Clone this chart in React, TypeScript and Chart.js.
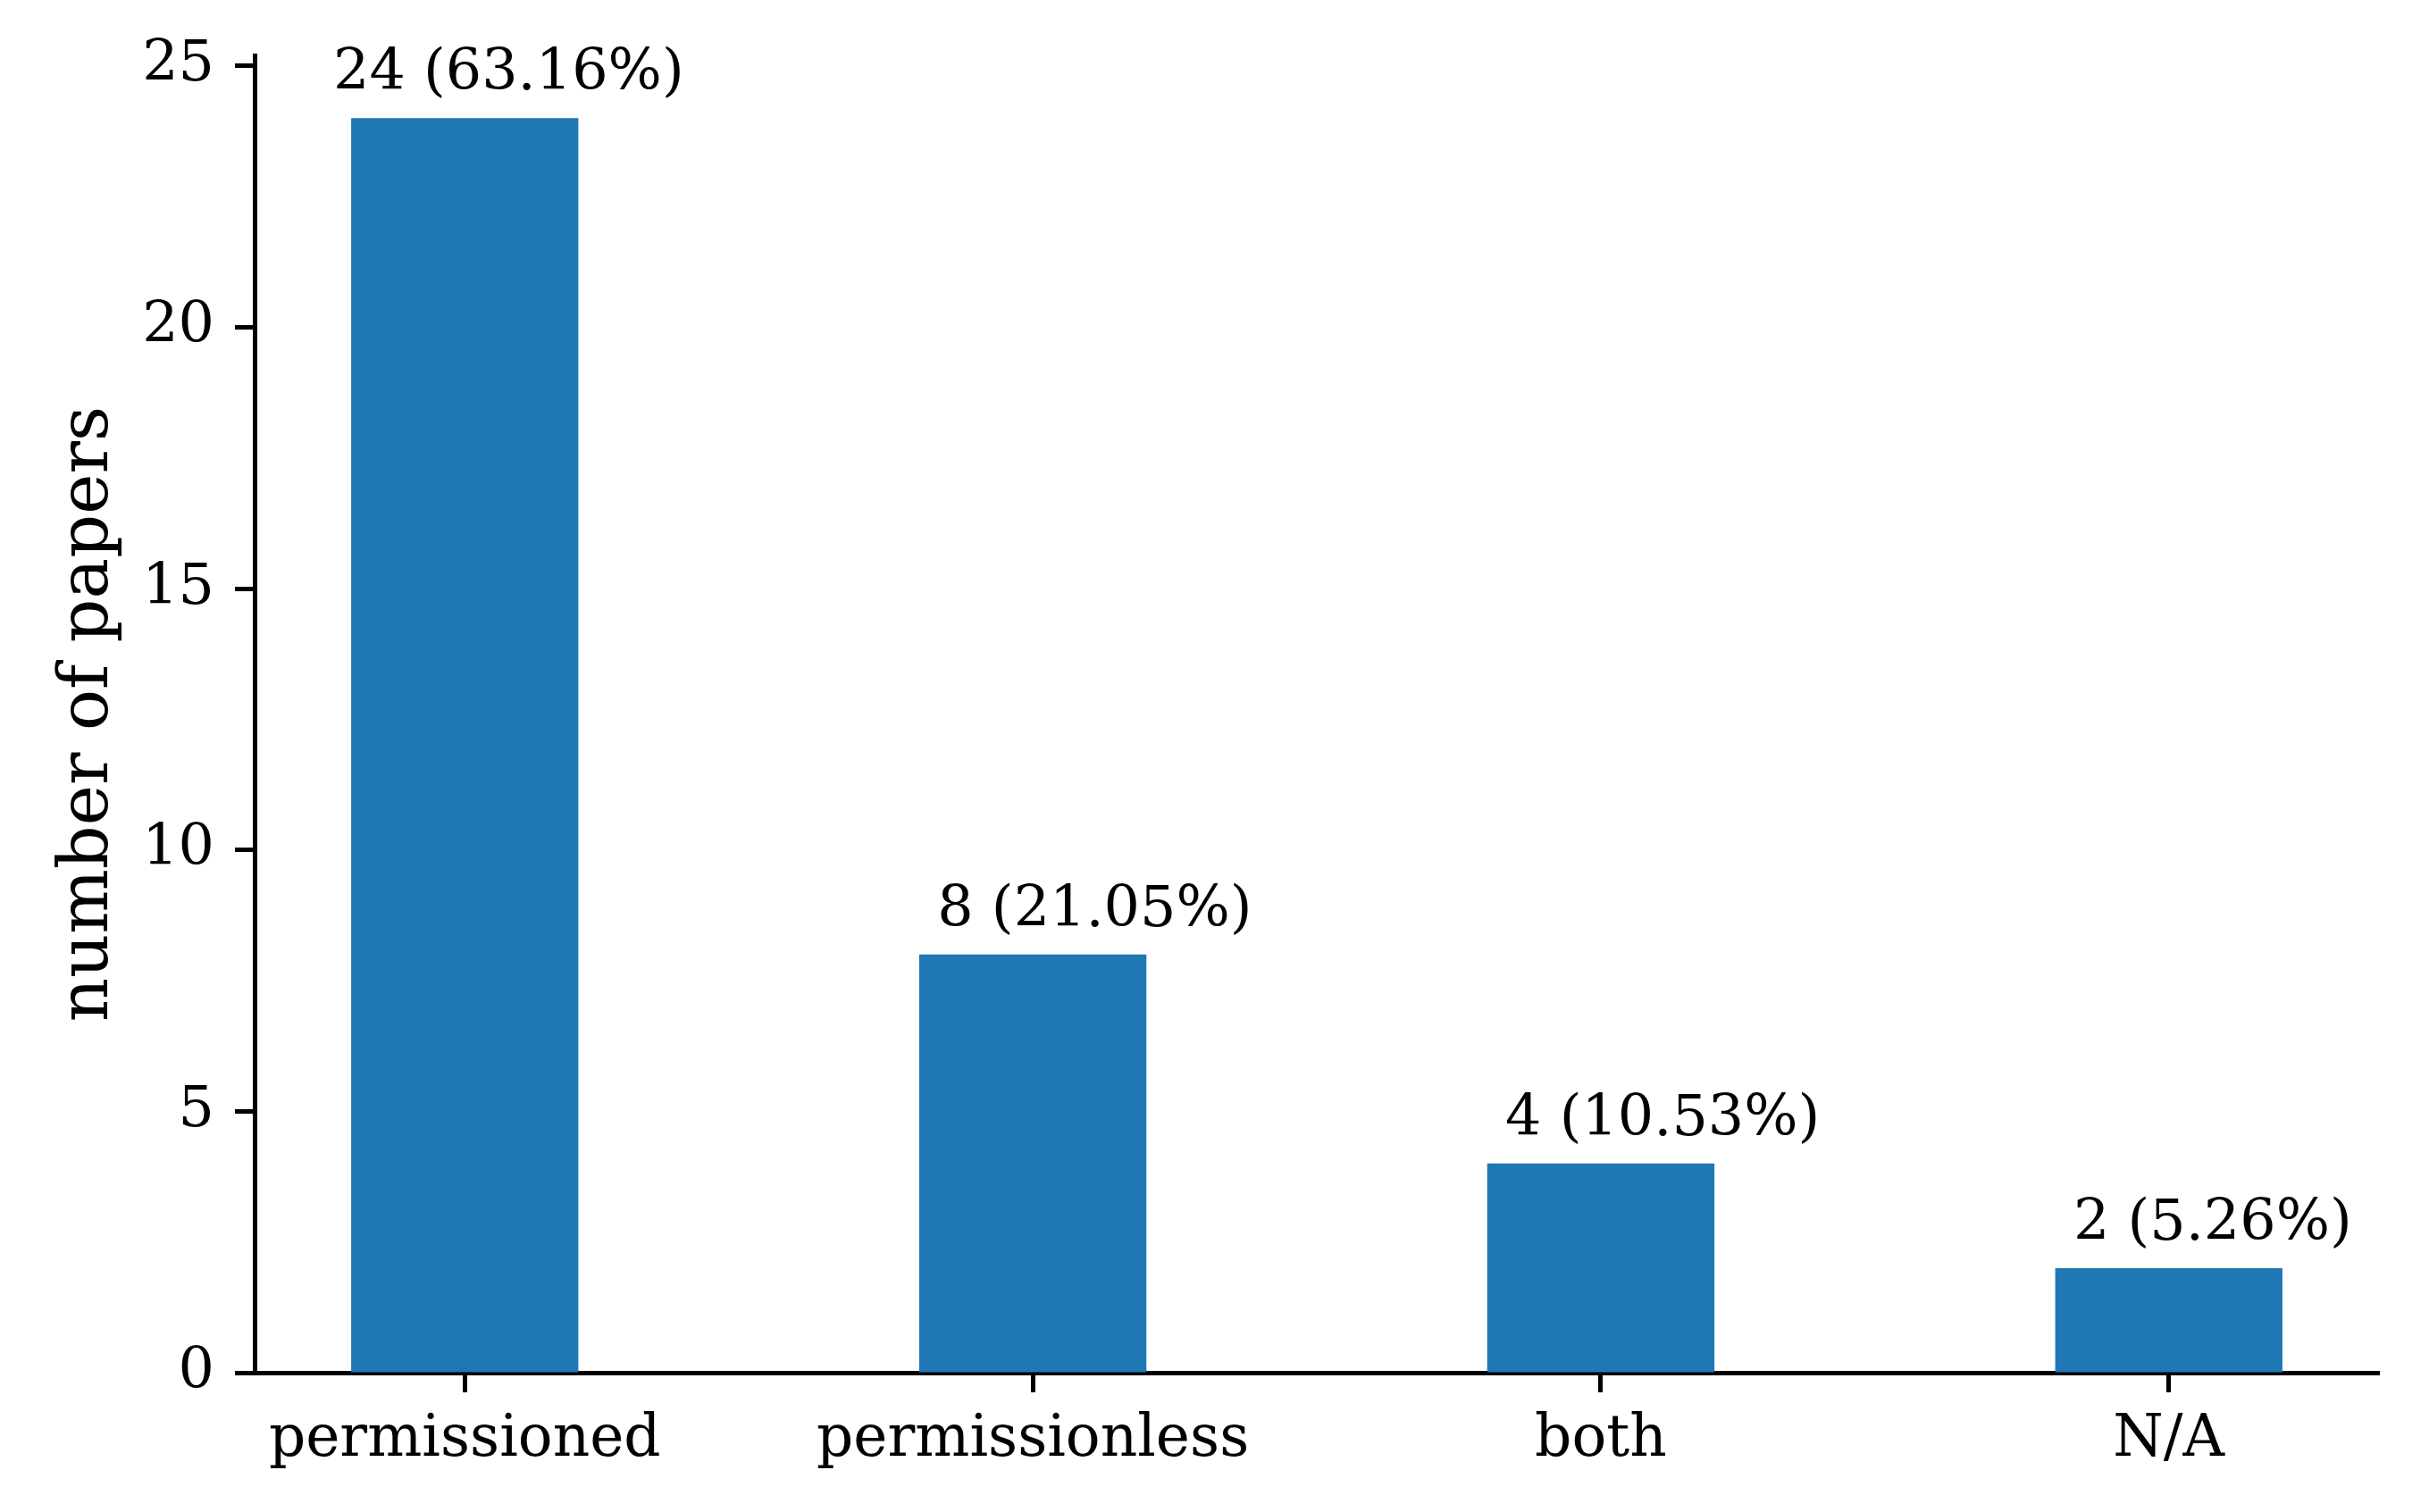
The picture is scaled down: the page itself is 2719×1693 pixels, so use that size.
import React, { useEffect, useRef } from "react";
import { Chart, registerables } from "chart.js";

Chart.register(...registerables);

const categories = ["permissioned", "permissionless", "both", "N/A"];
const counts = [24, 8, 4, 2];
const percentLabels = ["63.16%", "21.05%", "10.53%", "5.26%"];
const yTicks = [0, 5, 10, 15, 20, 25];
const yAxisTitle = "number of papers";

const FONT = "DejaVu Serif";
const W = 2719;
const H = 1693;

const barLabelPlugin = {
  id: "barLabels",
  afterDatasetsDraw(chart: any) {
    const meta = chart.getDatasetMeta(0);
    const ctx = chart.ctx;
    const xs = chart.scales.x;
    const unit = xs.getPixelForValue(1) - xs.getPixelForValue(0);
    ctx.save();
    ctx.font = `63.5px "${FONT}"`;
    ctx.fillStyle = "#000";
    ctx.textAlign = "left";
    ctx.textBaseline = "alphabetic";
    const digitW = ctx.measureText("0").width;
    meta.data.forEach((bar: any, i: number) => {
      const v = counts[i];
      const nd = String(v).length;
      const left = bar.x - 0.168 * unit - (nd - 1) * digitW;
      ctx.fillText(`${v} (${percentLabels[i]})`, left, bar.y - 32);
    });
    ctx.restore();
  },
};

export default function App() {
  const ref = useRef<HTMLCanvasElement | null>(null);

  useEffect(() => {
    if (!ref.current) return;
    const chart = new Chart(ref.current, {
      type: "bar",
      data: {
        datasets: [
          {
            data: counts.map((v, i) => ({ x: i, y: v })),
            backgroundColor: "#1f77b4",
            borderWidth: 0,
            barPercentage: 0.4,
            categoryPercentage: 1,
          },
        ],
      },
      options: {
        responsive: false,
        devicePixelRatio: 1,
        animation: false,
        events: [],
        layout: { padding: { top: 62, right: 56, left: 0, bottom: 0 } },
        plugins: {
          legend: { display: false },
          tooltip: { enabled: false },
        },
        scales: {
          x: {
            type: "linear",
            min: -0.37,
            max: 3.37,
            offset: false,
            grid: {
              drawOnChartArea: false,
              drawTicks: true,
              tickLength: 22,
              tickWidth: 5,
              tickColor: "#000",
              offset: false,
            },
            border: { display: true, color: "#000", width: 5 },
            ticks: {
              autoSkip: false,
              maxRotation: 0,
              minRotation: 0,
              padding: 16,
              color: "#000",
              font: { family: FONT, size: 64.5 },
              callback: (v: any) => categories[Math.round(Number(v))] ?? "",
            },
            afterBuildTicks: (s: any) => {
              s.ticks = categories.map((_, i) => ({ value: i }));
            },
            afterFit: (s: any) => {
              s.height = H - 1537;
            },
          },
          y: {
            type: "linear",
            min: 0,
            max: 25.2,
            grid: {
              drawOnChartArea: false,
              drawTicks: true,
              tickLength: 22,
              tickWidth: 5,
              tickColor: "#000",
            },
            border: { display: true, color: "#000", width: 5 },
            ticks: {
              padding: 23,
              color: "#000",
              font: { family: FONT, size: 63.5 },
            },
            afterBuildTicks: (s: any) => {
              s.ticks = yTicks.map((v) => ({ value: v }));
            },
            afterFit: (s: any) => {
              s.width = 285;
            },
            title: {
              display: true,
              text: yAxisTitle,
              color: "#000",
              font: { family: FONT, size: 76.5 },
              padding: { top: 54, bottom: 0 },
            },
          },
        },
      },
      plugins: [barLabelPlugin],
    } as any);
    return () => chart.destroy();
  }, []);

  return (
    <div style={{ position: "absolute", left: 0, top: 0, width: W, height: H, background: "#fff" }}>
      <canvas ref={ref} width={W} height={H} style={{ width: W, height: H, display: "block" }} />
    </div>
  );
}
